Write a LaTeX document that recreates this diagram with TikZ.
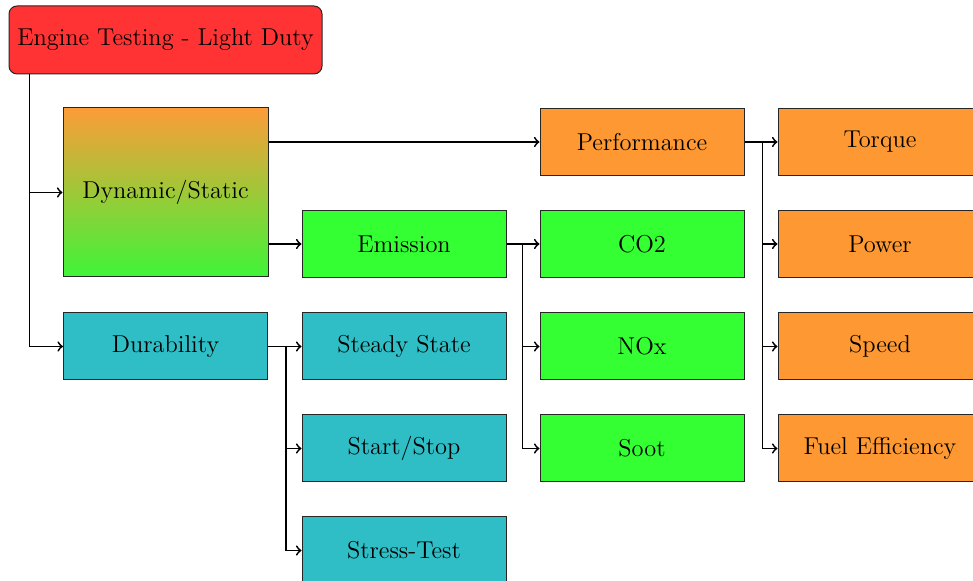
\documentclass[tikz,border=0pt]{standalone}
\usetikzlibrary{calc}
\definecolor{cRed}{RGB}{255,51,51}
\definecolor{cOrange}{RGB}{253,152,51}
\definecolor{cGreen}{RGB}{51,255,51}
\definecolor{cTeal}{RGB}{47,190,197}
\definecolor{gTop}{RGB}{252,156,56}
\definecolor{gBot}{RGB}{62,245,56}
\begin{document}
\begin{tikzpicture}[x=0.5pt,y=-0.5pt,
  box/.style={draw=black!85, line width=0.5pt, minimum width=102pt, minimum height=33.5pt, inner sep=0pt, font=\fontsize{12.2}{14}\selectfont},
  obox/.style={box, fill=cOrange},
  gbox/.style={box, fill=cGreen},
  tbox/.style={box, fill=cTeal},
  conn/.style={->, line width=0.9pt}]
\useasboundingbox (0,0) rectangle (973,581);
\clip (0,0) rectangle (973,581);
\node[box, fill=cRed, rounded corners=4pt, minimum width=156.5pt, minimum height=34pt] (top) at (165.5,40) {Engine Testing - Light Duty};
\node[box, top color=gTop, bottom color=gBot, minimum width=102.5pt, minimum height=84.5pt] (dyn) at (165.5,192.5) {Dynamic/Static};
\node[tbox] (dur) at (165.5,346.5) {Durability};
\node[obox] (perf) at (642,142) {Performance};
\node[gbox] (em) at (404,244) {Emission};
\node[tbox] (steady) at (404,346.5) {Steady State};
\node[tbox] (start) at (404,448.5) {Start/Stop};
\node[tbox] (stress) at (404,550.5) {Stress-Test};
\node[gbox] (co2) at (642,244) {CO2};
\node[gbox] (nox) at (642,346.5) {NOx};
\node[gbox] (soot) at (642,448.5) {Soot};
\node[obox] (torque) at (880,142) {Torque};
\node[obox] (power) at (880,244) {Power};
\node[obox] (speed) at (880,346.5) {Speed};
\node[obox] (fuel) at (880,448.5) {Fuel Efficiency};
% connectors
\coordinate (tj) at ($(top.south west)+(21,0)$);
\draw[conn] (tj) |- (dyn.west);
\draw[conn] (tj) |- (dur.west);
\draw[conn] (dyn.east |- perf.west) -- (perf.west);
\draw[conn] (dyn.east |- em.west) -- (em.west);
\coordinate (ej) at ($(em.east)+(16,0)$);
\draw[conn] (em.east) -- (co2.west);
\draw[conn] (em.east) -| (ej) |- (nox.west);
\draw[conn] (ej) |- (soot.west);
\coordinate (pj) at ($(perf.east)+(18,0)$);
\draw[conn] (perf.east) -- (torque.west);
\draw[conn] (pj) |- (power.west);
\draw[conn] (pj) |- (speed.west);
\draw[conn] (pj) |- (fuel.west);
\coordinate (dj) at ($(dur.east)+(18,0)$);
\draw[conn] (dur.east) -- (steady.west);
\draw[conn] (dj) |- (start.west);
\draw[conn] (dj) |- (stress.west);
\end{tikzpicture}
\end{document}
